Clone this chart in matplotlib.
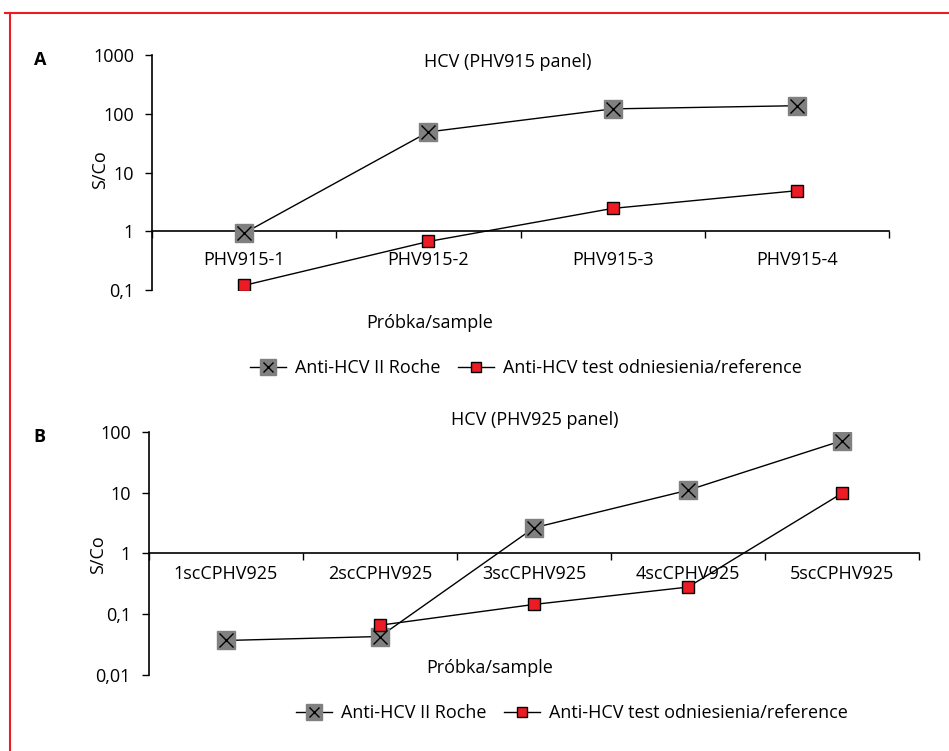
import matplotlib.pyplot as plt
from matplotlib.lines import Line2D
from matplotlib.ticker import FixedLocator, FixedFormatter, NullFormatter

plt.rcParams["font.family"] = ["Open Sans", "DejaVu Sans"]
plt.rcParams["font.size"] = 13

# Panel A data
samples_a = ["PHV915-1", "PHV915-2", "PHV915-3", "PHV915-4"]
roche_a = [0.93, 49, 121, 137]
reference_a = [0.12, 0.67, 2.45, 4.9]
yticks_a = [0.1, 1, 10, 100, 1000]
ylabels_a = ["0,1", "1", "10", "100", "1000"]

# Panel B data
samples_b = ["1scCPHV925", "2scCPHV925", "3scCPHV925", "4scCPHV925", "5scCPHV925"]
roche_b = [0.037, 0.043, 2.65, 11, 72]
reference_b = [None, 0.066, 0.145, 0.28, 9.8]
yticks_b = [0.01, 0.1, 1, 10, 100]
ylabels_b = ["0,01", "0,1", "1", "10", "100"]

label_roche = "Anti-HCV II Roche"
label_ref = "Anti-HCV test odniesienia/reference"

GRAY = "#808080"
RED = "#ED1C24"
FS = 13


def draw_panel(ax, samples, roche, reference, yticks, ylabels, xpad):
    x = list(range(len(samples)))
    ref_x = [i for i, v in zip(x, reference) if v is not None]
    ref_y = [v for v in reference if v is not None]

    ax.plot(x, roche, color="black", lw=1.0, zorder=2)
    ax.plot(x, roche, ls="none", marker="s", ms=13, mfc=GRAY, mec=GRAY, zorder=3)
    ax.plot(x, roche, ls="none", marker="x", ms=10, mec="black", mew=1.0, zorder=4)
    ax.plot(ref_x, ref_y, color="black", lw=1.0, marker="s", ms=8.5,
            mfc=RED, mec="black", mew=1.0, zorder=5)

    ax.set_yscale("log")
    ax.set_ylim(yticks[0], yticks[-1])
    ax.set_xlim(-0.5, len(samples) - 0.5)
    ax.yaxis.set_major_locator(FixedLocator(yticks))
    ax.yaxis.set_major_formatter(FixedFormatter(ylabels))
    ax.yaxis.set_minor_formatter(NullFormatter())
    ax.yaxis.set_minor_locator(FixedLocator([]))
    ax.tick_params(axis="y", length=5, width=1.0, direction="out", pad=8, labelsize=FS)

    ax.set_xticks(x)
    ax.set_xticklabels(samples)
    ax.set_xticks([i + 0.5 for i in range(-1, len(samples))], minor=True)
    ax.tick_params(axis="x", which="major", length=0, pad=xpad, labelsize=FS)
    ax.tick_params(axis="x", which="minor", length=5, width=1.0, direction="out")

    ax.spines["top"].set_visible(False)
    ax.spines["right"].set_visible(False)
    ax.spines["bottom"].set_position(("data", 1))
    ax.spines["bottom"].set_linewidth(1.2)
    ax.spines["left"].set_linewidth(1.2)


fig = plt.figure(figsize=(9.49, 7.51), dpi=100)

ax_a = fig.add_axes([0.1602, 0.6138, 0.7766, 0.313])
draw_panel(ax_a, samples_a, roche_a, reference_a, yticks_a, ylabels_a, xpad=14)

ax_b = fig.add_axes([0.157, 0.1012, 0.8114, 0.3236])
draw_panel(ax_b, samples_b, roche_b, reference_b, yticks_b, ylabels_b, xpad=8)

fig.text(0.535, 0.917, "HCV (PHV915 panel)", ha="center", va="center", fontsize=FS)
fig.text(0.564, 0.441, "HCV (PHV925 panel)", ha="center", va="center", fontsize=FS)
fig.text(0.453, 0.570, "Próbka/sample", ha="center", va="center", fontsize=FS)
fig.text(0.516, 0.110, "Próbka/sample", ha="center", va="center", fontsize=FS)
fig.text(0.105, 0.774, "S/Co", ha="center", va="center", rotation=90, fontsize=FS)
fig.text(0.103, 0.261, "S/Co", ha="center", va="center", rotation=90, fontsize=FS)
fig.text(0.042, 0.920, "A", ha="center", va="center", fontsize=13, fontweight="bold")
fig.text(0.042, 0.418, "B", ha="center", va="center", fontsize=13, fontweight="bold")

# legends
roche_handle = (
    Line2D([], [], color="black", lw=1.0, marker="s", ms=11, mfc=GRAY, mec=GRAY),
    Line2D([], [], ls="none", marker="x", ms=7, mec="black", mew=1.0),
)
ref_handle = Line2D([], [], color="black", lw=1.0, marker="s", ms=7,
                    mfc=RED, mec="black", mew=1.0)
for xpos, ypos in ((526 / 949, 1 - 368 / 751), (572 / 949, 1 - 713 / 751)):
    fig.legend([roche_handle, ref_handle], [label_roche, label_ref],
               loc="center", bbox_to_anchor=(xpos, ypos),
               ncol=2, frameon=False, handlelength=2.0, columnspacing=1.0,
               handletextpad=0.5, fontsize=FS)

# red frame
fig.add_artist(Line2D([5 / 949, 1], [1 - 12.5 / 751, 1 - 12.5 / 751],
                      color=RED, lw=1.5, transform=fig.transFigure))
fig.add_artist(Line2D([9.5 / 949, 9.5 / 949], [0, 1 - 12.5 / 751],
                      color=RED, lw=1.5, transform=fig.transFigure))

fig.savefig("out.png", dpi=100)
